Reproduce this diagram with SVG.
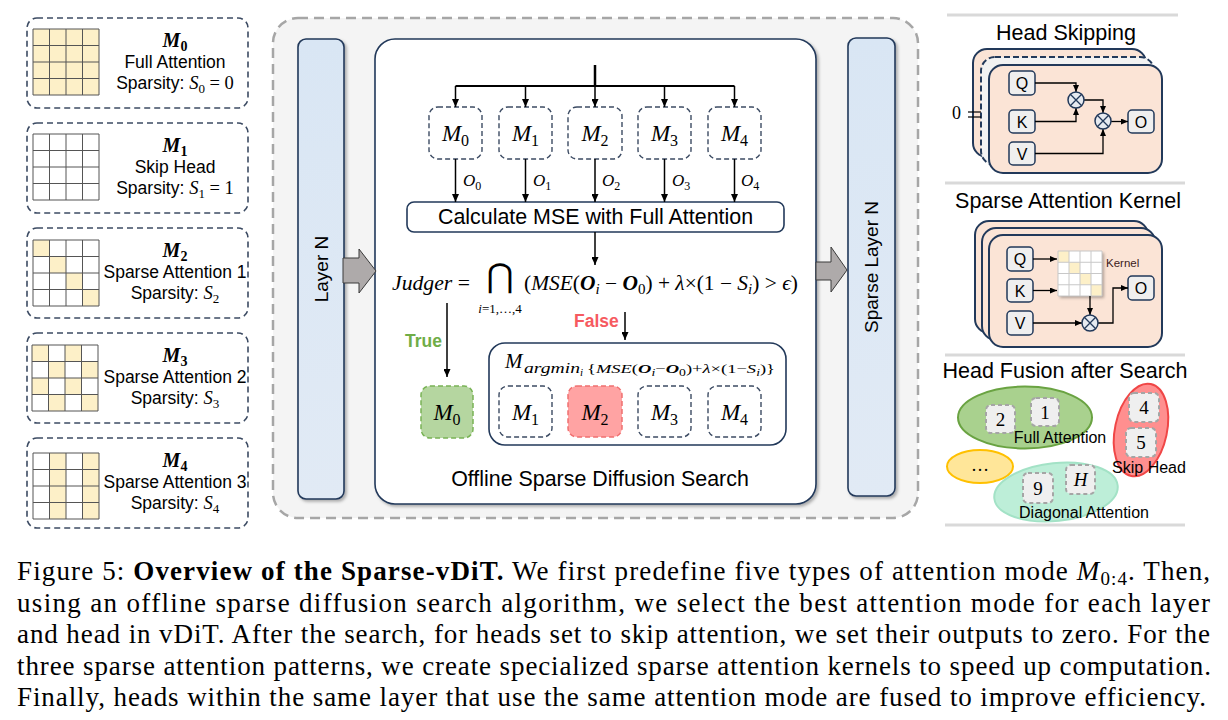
<svg xmlns="http://www.w3.org/2000/svg" width="1228" height="720" viewBox="0 0 1228 720">
<defs>
<marker id="ah" viewBox="0 0 8 7" refX="8" refY="3.5" markerWidth="8" markerHeight="7" markerUnits="userSpaceOnUse" orient="auto"><path d="M0,0 L8,3.5 L0,7 z" fill="#000"/></marker>
<marker id="ahs" viewBox="0 0 7 6" refX="7" refY="3" markerWidth="7" markerHeight="6" markerUnits="userSpaceOnUse" orient="auto"><path d="M0,0 L7,3 L0,6 z" fill="#000"/></marker>
<filter id="sh" x="-10%" y="-10%" width="130%" height="130%"><feDropShadow dx="2" dy="2" stdDeviation="1.5" flood-color="#000" flood-opacity="0.3"/></filter>
<linearGradient id="bar" x1="0" y1="0" x2="0" y2="1"><stop offset="0" stop-color="#d9e6f4"/><stop offset="1" stop-color="#e1eaf5"/></linearGradient>
<style>
.sans{font-family:"Liberation Sans",Arial,sans-serif;fill:#000}
.ser{font-family:"Liberation Serif","Times New Roman",serif;fill:#000}
.it{font-style:italic}
.bi{font-style:italic;font-weight:bold}
.dbox{fill:#fff;stroke:#3c4b63;stroke-width:1.6;stroke-dasharray:6 4}
.mbox{fill:#fff;stroke:#3c4b63;stroke-width:1.4;stroke-dasharray:5 3}
.y{fill:#fdf0c8}
.w{fill:#fff}
.gl{stroke:#555;stroke-width:1;fill:none}
.navy{stroke:#22395a;stroke-width:1.6}
.ln{fill:none;stroke:#000;stroke-width:1.5}
.lns{fill:none;stroke:#000;stroke-width:1.3}
.card{fill:#fbe4d6;stroke:#22395a;stroke-width:2}
.key{fill:#efefef;stroke:#22395a;stroke-width:1.5}
.nb{fill:#efefef;stroke:#a5a5a5;stroke-width:2;stroke-dasharray:4 3}
.sep{stroke:#d9d9d9;stroke-width:3}
.blk{fill:#aeaaaa;stroke:#3a3a3a;stroke-width:1}
.otimes{fill:#e6eaf0;stroke:#22395a;stroke-width:1.5}
.lt{font-size:17.5px}
</style>
</defs>
<rect width="1228" height="720" fill="#fff"/>

<!-- LEFT COLUMN -->
<g id="mode-M0">
<rect class="dbox" x="27" y="18" width="221" height="90" rx="10"/>
<g transform="translate(33,29)">
<rect class="y" width="66" height="66"/>
<path class="gl" d="M0,0H66V66H0Z M16.5,0V66 M33,0V66 M49.5,0V66 M0,16.5H66 M0,33H66 M0,49.5H66"/>
</g>
<text class="ser" x="175" y="47" text-anchor="middle"><tspan class="bi" font-size="20">M</tspan><tspan font-weight="bold" font-size="14" dy="4">0</tspan></text>
<text class="sans lt" x="175" y="68" text-anchor="middle">Full Attention</text>
<text class="sans lt" x="175" y="89" text-anchor="middle">Sparsity: <tspan class="ser it" font-size="18.5">S</tspan><tspan class="ser" font-size="13" dy="4">0</tspan><tspan class="ser" font-size="18.5" dy="-4"> = 0</tspan></text>
</g>

<g id="mode-M1">
<rect class="dbox" x="27" y="123" width="221" height="90" rx="10"/>
<g transform="translate(33,134)">
<rect class="w" width="66" height="66"/>
<path class="gl" d="M0,0H66V66H0Z M16.5,0V66 M33,0V66 M49.5,0V66 M0,16.5H66 M0,33H66 M0,49.5H66"/>
</g>
<text class="ser" x="175" y="152" text-anchor="middle"><tspan class="bi" font-size="20">M</tspan><tspan font-weight="bold" font-size="14" dy="4">1</tspan></text>
<text class="sans lt" x="175" y="173" text-anchor="middle">Skip Head</text>
<text class="sans lt" x="175" y="194" text-anchor="middle">Sparsity: <tspan class="ser it" font-size="18.5">S</tspan><tspan class="ser" font-size="13" dy="4">1</tspan><tspan class="ser" font-size="18.5" dy="-4"> = 1</tspan></text>
</g>

<g id="mode-M2">
<rect class="dbox" x="27" y="228" width="221" height="90" rx="10"/>
<g transform="translate(33,240)">
<rect class="w" width="66" height="66"/>
<rect class="y" x="0" y="0" width="16.5" height="16.5"/>
<rect class="y" x="16.5" y="16.5" width="16.5" height="16.5"/>
<rect class="y" x="33" y="33" width="16.5" height="16.5"/>
<rect class="y" x="49.5" y="49.5" width="16.5" height="16.5"/>
<path class="gl" d="M0,0H66V66H0Z M16.5,0V66 M33,0V66 M49.5,0V66 M0,16.5H66 M0,33H66 M0,49.5H66"/>
</g>
<text class="ser" x="175" y="257" text-anchor="middle"><tspan class="bi" font-size="20">M</tspan><tspan font-weight="bold" font-size="14" dy="4">2</tspan></text>
<text class="sans lt" x="175" y="278" text-anchor="middle">Sparse Attention 1</text>
<text class="sans lt" x="175" y="299" text-anchor="middle">Sparsity: <tspan class="ser it" font-size="18.5">S</tspan><tspan class="ser" font-size="13" dy="4">2</tspan></text>
</g>

<g id="mode-M3">
<rect class="dbox" x="27" y="333" width="221" height="90" rx="10"/>
<g transform="translate(32,345)">
<rect class="w" width="66" height="66"/>
<rect class="y" x="0" y="0" width="16.5" height="16.5"/>
<rect class="y" x="33" y="0" width="16.5" height="16.5"/>
<rect class="y" x="16.5" y="16.5" width="16.5" height="16.5"/>
<rect class="y" x="49.5" y="16.5" width="16.5" height="16.5"/>
<rect class="y" x="0" y="33" width="16.5" height="16.5"/>
<rect class="y" x="33" y="33" width="16.5" height="16.5"/>
<rect class="y" x="16.5" y="49.5" width="16.5" height="16.5"/>
<rect class="y" x="49.5" y="49.5" width="16.5" height="16.5"/>
<path class="gl" d="M0,0H66V66H0Z M16.5,0V66 M33,0V66 M49.5,0V66 M0,16.5H66 M0,33H66 M0,49.5H66"/>
</g>
<text class="ser" x="175" y="362" text-anchor="middle"><tspan class="bi" font-size="20">M</tspan><tspan font-weight="bold" font-size="14" dy="4">3</tspan></text>
<text class="sans lt" x="175" y="383" text-anchor="middle">Sparse Attention 2</text>
<text class="sans lt" x="175" y="404" text-anchor="middle">Sparsity: <tspan class="ser it" font-size="18.5">S</tspan><tspan class="ser" font-size="13" dy="4">3</tspan></text>
</g>

<g id="mode-M4">
<rect class="dbox" x="27" y="438" width="221" height="90" rx="10"/>
<g transform="translate(33,453)">
<rect class="w" width="66" height="66"/>
<rect class="y" x="16.5" y="0" width="16.5" height="66"/>
<rect class="y" x="49.5" y="0" width="16.5" height="66"/>
<path class="gl" d="M0,0H66V66H0Z M16.5,0V66 M33,0V66 M49.5,0V66 M0,16.5H66 M0,33H66 M0,49.5H66"/>
</g>
<text class="ser" x="175" y="467" text-anchor="middle"><tspan class="bi" font-size="20">M</tspan><tspan font-weight="bold" font-size="14" dy="4">4</tspan></text>
<text class="sans lt" x="175" y="488" text-anchor="middle">Sparse Attention 3</text>
<text class="sans lt" x="175" y="509" text-anchor="middle">Sparsity: <tspan class="ser it" font-size="18.5">S</tspan><tspan class="ser" font-size="13" dy="4">4</tspan></text>
</g>

<!-- MIDDLE -->
<g id="outer-frame">
<rect x="273" y="18" width="645" height="500" rx="25" fill="#f4f4f4" stroke="#a6a6a6" stroke-width="2.5" stroke-dasharray="10 6"/>
</g>
<g id="layer-n">
<rect x="298" y="39" width="46" height="460" rx="8" fill="url(#bar)" class="navy" filter="url(#sh)"/>
<text class="sans" font-size="19" text-anchor="middle" transform="translate(328,269) rotate(-90)">Layer N</text>
</g>
<g id="sparse-layer-n">
<rect x="848" y="38" width="47" height="458" rx="8" fill="url(#bar)" class="navy" filter="url(#sh)"/>
<text class="sans" font-size="19" text-anchor="middle" transform="translate(878,267) rotate(-90)">Sparse Layer N</text>
</g>
<g id="search-box">
<rect x="375" y="39" width="441" height="465" rx="20" fill="#fff" class="navy" filter="url(#sh)"/>
<text class="sans" x="600" y="486" text-anchor="middle" font-size="21.4">Offline Sparse Diffusion Search</text>
</g>

<g id="top-M0"><rect class="mbox" x="429" y="107" width="53" height="52" rx="9"/><text class="ser" x="455.5" y="141" text-anchor="middle"><tspan class="it" font-size="23">M</tspan><tspan font-size="16" dy="5">0</tspan></text></g>
<g id="top-M1"><rect class="mbox" x="499" y="107" width="53" height="52" rx="9"/><text class="ser" x="525.5" y="141" text-anchor="middle"><tspan class="it" font-size="23">M</tspan><tspan font-size="16" dy="5">1</tspan></text></g>
<g id="top-M2"><rect class="mbox" x="568" y="107" width="54" height="52" rx="9"/><text class="ser" x="595" y="141" text-anchor="middle"><tspan class="it" font-size="23">M</tspan><tspan font-size="16" dy="5">2</tspan></text></g>
<g id="top-M3"><rect class="mbox" x="638" y="107" width="53" height="52" rx="9"/><text class="ser" x="664.5" y="141" text-anchor="middle"><tspan class="it" font-size="23">M</tspan><tspan font-size="16" dy="5">3</tspan></text></g>
<g id="top-M4"><rect class="mbox" x="708" y="107" width="53" height="52" rx="9"/><text class="ser" x="734.5" y="141" text-anchor="middle"><tspan class="it" font-size="23">M</tspan><tspan font-size="16" dy="5">4</tspan></text></g>

<g id="calc-mse">
<rect x="407" y="202" width="377" height="30" rx="7" fill="#fff" class="navy"/>
<text class="sans" x="595.5" y="224" text-anchor="middle" font-size="21.4">Calculate MSE with Full Attention</text>
</g>

<g id="judger">
<text class="ser" x="392" y="290" font-size="20" textLength="78" lengthAdjust="spacingAndGlyphs"><tspan class="it">Judger</tspan> =</text>
<text x="500" y="287" font-family="DejaVu Sans,sans-serif" font-size="33" text-anchor="middle">⋂</text>
<text class="ser" x="500" y="313" font-size="13" text-anchor="middle"><tspan class="it">i</tspan>=1,…,4</text>
<text class="ser" x="524" y="290" font-size="20" textLength="274" lengthAdjust="spacingAndGlyphs">(<tspan class="it">MSE</tspan>(<tspan class="bi">O</tspan><tspan class="it" font-size="14" dy="4">i</tspan><tspan dy="-4"> − </tspan><tspan class="bi">O</tspan><tspan font-size="14" dy="4">0</tspan><tspan dy="-4">) + </tspan><tspan class="it">λ</tspan>×(1 − <tspan class="it">S</tspan><tspan class="it" font-size="14" dy="4">i</tspan><tspan dy="-4">) &gt; </tspan><tspan class="it">ϵ</tspan>)</text>
</g>

<text id="lbl-true" class="sans" x="405" y="347" font-size="17.5" font-weight="bold" style="fill:#70ad47">True</text>
<text id="lbl-false" class="sans" x="574" y="327" font-size="17.5" font-weight="bold" style="fill:#f65a5f">False</text>

<g id="result-M0">
<rect x="421" y="386" width="52" height="52" rx="9" fill="#b5d6a0" stroke="#79b356" stroke-width="1.5" stroke-dasharray="5 3"/>
<text class="ser" x="447" y="420" text-anchor="middle"><tspan class="it" font-size="23">M</tspan><tspan font-size="16" dy="5">0</tspan></text>
</g>

<g id="argmin-box">
<rect x="489" y="343" width="297" height="102" rx="16" fill="#fff" class="navy"/>
<text class="ser it" x="505" y="368" font-size="21">M</text>
<text class="ser it" x="524" y="373" font-size="15" textLength="56" lengthAdjust="spacingAndGlyphs">argmin</text>
<text class="ser it" x="580" y="376" font-size="11">i</text>
<text class="ser" x="587" y="373" font-size="13.5" textLength="188" lengthAdjust="spacingAndGlyphs">{<tspan class="it">MSE</tspan>(<tspan class="bi">O</tspan><tspan class="it" font-size="10" dy="3">i</tspan><tspan dy="-3">−</tspan><tspan class="bi">O</tspan><tspan font-size="10" dy="3">0</tspan><tspan dy="-3">)+</tspan><tspan class="it">λ</tspan>×(1−<tspan class="it">S</tspan><tspan class="it" font-size="10" dy="3">i</tspan><tspan dy="-3">)}</tspan></text>
</g>
<g id="bottom-M1"><rect class="mbox" x="499" y="386" width="53" height="51" rx="9"/><text class="ser" x="525.5" y="420" text-anchor="middle"><tspan class="it" font-size="23">M</tspan><tspan font-size="16" dy="5">1</tspan></text></g>
<g id="bottom-M2"><rect x="568" y="386" width="54" height="51" rx="9" fill="#ffa3a3" stroke="#f07070" stroke-width="1.5" stroke-dasharray="5 3"/><text class="ser" x="595" y="420" text-anchor="middle"><tspan class="it" font-size="23">M</tspan><tspan font-size="16" dy="5">2</tspan></text></g>
<g id="bottom-M3"><rect class="mbox" x="638" y="386" width="53" height="51" rx="9"/><text class="ser" x="664.5" y="420" text-anchor="middle"><tspan class="it" font-size="23">M</tspan><tspan font-size="16" dy="5">3</tspan></text></g>
<g id="bottom-M4"><rect class="mbox" x="708" y="386" width="53" height="51" rx="9"/><text class="ser" x="734.5" y="420" text-anchor="middle"><tspan class="it" font-size="23">M</tspan><tspan font-size="16" dy="5">4</tspan></text></g>

<g id="connectors">
<polygon class="blk" points="343,258 359,258 359,249 376,271 359,293 359,283 343,283"/>
<polygon class="blk" points="816,262 831,262 831,247 847,270 831,292 831,280 816,280"/>
<line x1="595" y1="65" x2="595" y2="87" stroke="#000" stroke-width="2.5"/>
<line x1="455.5" y1="86" x2="734.5" y2="86" stroke="#000" stroke-width="2"/>
<path class="ln" marker-end="url(#ah)" d="M455.5,86V107"/>
<path class="ln" marker-end="url(#ah)" d="M525.5,86V107"/>
<path class="ln" marker-end="url(#ah)" d="M595,86V107"/>
<path class="ln" marker-end="url(#ah)" d="M664.5,86V107"/>
<path class="ln" marker-end="url(#ah)" d="M734.5,86V107"/>
<path class="ln" marker-end="url(#ah)" d="M455.5,159V202"/>
<path class="ln" marker-end="url(#ah)" d="M525.5,159V202"/>
<path class="ln" marker-end="url(#ah)" d="M595,159V202"/>
<path class="ln" marker-end="url(#ah)" d="M664.5,159V202"/>
<path class="ln" marker-end="url(#ah)" d="M734.5,159V202"/>
<path class="ln" marker-end="url(#ah)" d="M595,232V265"/>
<path class="ln" marker-end="url(#ah)" d="M447,303V377"/>
<path class="ln" marker-end="url(#ah)" d="M625,312V340"/>
<text class="ser" x="463" y="186"><tspan class="it" font-size="17">O</tspan><tspan font-size="12" dy="4">0</tspan></text>
<text class="ser" x="533" y="186"><tspan class="it" font-size="17">O</tspan><tspan font-size="12" dy="4">1</tspan></text>
<text class="ser" x="602" y="186"><tspan class="it" font-size="17">O</tspan><tspan font-size="12" dy="4">2</tspan></text>
<text class="ser" x="672" y="186"><tspan class="it" font-size="17">O</tspan><tspan font-size="12" dy="4">3</tspan></text>
<text class="ser" x="741" y="186"><tspan class="it" font-size="17">O</tspan><tspan font-size="12" dy="4">4</tspan></text>
</g>

<!-- RIGHT COLUMN -->
<g id="separators">
<line class="sep" x1="947" y1="15" x2="1178" y2="15"/>
<line class="sep" x1="945" y1="183" x2="1185" y2="183"/>
<line class="sep" x1="945" y1="355" x2="1185" y2="355"/>
<line class="sep" x1="945" y1="525" x2="1185" y2="525"/>
</g>

<g id="head-skipping">
<text class="sans" x="1066" y="40" text-anchor="middle" font-size="21.5">Head Skipping</text>
<rect class="card" x="973" y="49" width="173" height="108" rx="14"/>
<rect x="981" y="57" width="173" height="108" rx="14" fill="#f2f2f2" stroke="#22395a" stroke-width="2" stroke-dasharray="6 3"/>
<rect class="card" x="989" y="65" width="173" height="108" rx="14"/>
<text class="ser" x="952" y="119" font-size="18">0</text>
<line x1="968" y1="112" x2="981" y2="112" stroke="#000" stroke-width="1.2"/>
<line x1="968" y1="117" x2="981" y2="117" stroke="#000" stroke-width="1.2"/>
<rect class="key" x="1009" y="71" width="26" height="24" rx="4"/><text class="sans" x="1022" y="89" text-anchor="middle" font-size="16">Q</text>
<rect class="key" x="1009" y="110" width="26" height="23" rx="4"/><text class="sans" x="1022" y="127.5" text-anchor="middle" font-size="16">K</text>
<rect class="key" x="1009" y="142" width="26" height="23" rx="4"/><text class="sans" x="1022" y="159.5" text-anchor="middle" font-size="16">V</text>
<rect class="key" x="1128" y="110" width="26" height="23" rx="4"/><text class="sans" x="1141" y="127.5" text-anchor="middle" font-size="16">O</text>
<path class="lns" marker-end="url(#ahs)" d="M1035,83H1076V92"/>
<path class="lns" marker-end="url(#ahs)" d="M1035,121.5H1076V108"/>
<path class="lns" marker-end="url(#ahs)" d="M1084,100H1103V113"/>
<path class="lns" marker-end="url(#ahs)" d="M1035,153.5H1103V129"/>
<path class="lns" marker-end="url(#ahs)" d="M1111,121.5H1128"/>
<circle class="otimes" cx="1076" cy="100" r="8"/><path d="M1070.3,94.3L1081.7,105.7M1081.7,94.3L1070.3,105.7" stroke="#22395a" stroke-width="1.3"/>
<circle class="otimes" cx="1103" cy="121" r="8"/><path d="M1097.3,115.3L1108.7,126.7M1108.7,115.3L1097.3,126.7" stroke="#22395a" stroke-width="1.3"/>
</g>

<g id="sparse-kernel">
<text class="sans" x="1068" y="208" text-anchor="middle" font-size="21.5">Sparse Attention Kernel</text>
<rect class="card" x="975" y="221" width="173" height="112" rx="14"/>
<rect class="card" x="982" y="228" width="173" height="112" rx="14"/>
<rect class="card" x="989" y="235" width="173" height="112" rx="14"/>
<g filter="url(#sh)">
<rect x="1058" y="251" width="44" height="45" fill="#fff"/>
</g>
<rect class="y" x="1058" y="251" width="11" height="11.25"/>
<rect class="y" x="1069" y="262.25" width="11" height="11.25"/>
<rect class="y" x="1080" y="273.5" width="11" height="11.25"/>
<rect class="y" x="1091" y="284.75" width="11" height="11.25"/>
<path d="M1058,251H1102V296H1058Z M1069,251V296 M1080,251V296 M1091,251V296 M1058,262.25H1102 M1058,273.5H1102 M1058,284.75H1102" fill="none" stroke="#c8c8c8" stroke-width="1"/>
<text class="sans" x="1106" y="267" font-size="11.5" style="fill:#3b1a1a">Kernel</text>
<rect class="key" x="1007" y="247" width="26" height="24" rx="4"/><text class="sans" x="1020" y="265" text-anchor="middle" font-size="16">Q</text>
<rect class="key" x="1007" y="279" width="26" height="23" rx="4"/><text class="sans" x="1020" y="296.5" text-anchor="middle" font-size="16">K</text>
<rect class="key" x="1007" y="311" width="26" height="24" rx="4"/><text class="sans" x="1020" y="329" text-anchor="middle" font-size="16">V</text>
<rect class="key" x="1128" y="276" width="26" height="24" rx="4"/><text class="sans" x="1141" y="294" text-anchor="middle" font-size="16">O</text>
<path class="lns" marker-end="url(#ahs)" d="M1033,259H1057"/>
<path class="lns" marker-end="url(#ahs)" d="M1033,290.5H1057"/>
<path class="lns" marker-end="url(#ahs)" d="M1090,296V315"/>
<path class="lns" marker-end="url(#ahs)" d="M1033,323H1082"/>
<path class="lns" marker-end="url(#ahs)" d="M1098,323H1113V288H1128"/>
<circle class="otimes" cx="1090" cy="323" r="8"/><path d="M1084.3,317.3L1095.7,328.7M1095.7,317.3L1084.3,328.7" stroke="#22395a" stroke-width="1.3"/>
</g>

<g id="head-fusion">
<text class="sans" x="1065" y="378" text-anchor="middle" font-size="21.5">Head Fusion after Search</text>
<ellipse cx="1025" cy="417.5" rx="67" ry="31" fill="#a9d18e" stroke="#6aa342" stroke-width="2"/>
<ellipse cx="1141" cy="430" rx="26" ry="47" transform="rotate(12 1141 430)" fill="#ff8f8f" stroke="#f04646" stroke-width="2"/>
<ellipse cx="980" cy="466.5" rx="33" ry="16.5" fill="#ffe699" stroke="#ffc000" stroke-width="2"/>
<ellipse cx="1056" cy="492" rx="62" ry="29" transform="rotate(-6 1056 492)" fill="#bdeed8" stroke="#a3e2c6" stroke-width="2"/>
<rect class="nb" x="986" y="405" width="29" height="28" rx="5"/><text class="ser" x="1000.5" y="426" text-anchor="middle" font-size="19">2</text>
<rect class="nb" x="1031" y="398" width="28" height="28" rx="5"/><text class="ser" x="1045" y="419" text-anchor="middle" font-size="19">1</text>
<text class="sans" x="1060" y="443" text-anchor="middle" font-size="16">Full Attention</text>
<rect class="nb" x="1129" y="393" width="30" height="29" rx="5"/><text class="ser" x="1144" y="414" text-anchor="middle" font-size="19">4</text>
<rect class="nb" x="1126" y="428" width="30" height="29" rx="5"/><text class="ser" x="1141" y="449" text-anchor="middle" font-size="19">5</text>
<text class="sans" x="1149" y="473" text-anchor="middle" font-size="16">Skip Head</text>
<text class="ser" x="980" y="471" text-anchor="middle" font-size="18">…</text>
<rect class="nb" x="1023" y="473" width="30" height="30" rx="5"/><text class="ser" x="1038" y="495" text-anchor="middle" font-size="19">9</text>
<rect class="nb" x="1066" y="465" width="29" height="29" rx="5"/><text class="ser it" x="1080.5" y="486" text-anchor="middle" font-size="19">H</text>
<text class="sans" x="1084" y="518" text-anchor="middle" font-size="16">Diagonal Attention</text>
</g>

<!-- CAPTION -->
<g id="caption">
<text class="ser" x="17" y="580" font-size="27" textLength="1193" lengthAdjust="spacing">Figure 5: <tspan font-weight="bold">Overview of the Sparse-vDiT.</tspan> We first predefine five types of attention mode <tspan class="it">M</tspan><tspan font-size="19" dy="5">0:4</tspan><tspan dy="-5">. Then,</tspan></text>
<text class="ser" x="17" y="611.5" font-size="27" textLength="1193" lengthAdjust="spacing">using an offline sparse diffusion search algorithm, we select the best attention mode for each layer</text>
<text class="ser" x="17" y="643" font-size="27" textLength="1193" lengthAdjust="spacing">and head in vDiT. After the search, for heads set to skip attention, we set their outputs to zero. For the</text>
<text class="ser" x="17" y="674.5" font-size="27" textLength="1194" lengthAdjust="spacing">three sparse attention patterns, we create specialized sparse attention kernels to speed up computation.</text>
<text class="ser" x="17" y="706" font-size="27" textLength="1189" lengthAdjust="spacing">Finally, heads within the same layer that use the same attention mode are fused to improve efficiency.</text>
</g>
</svg>
